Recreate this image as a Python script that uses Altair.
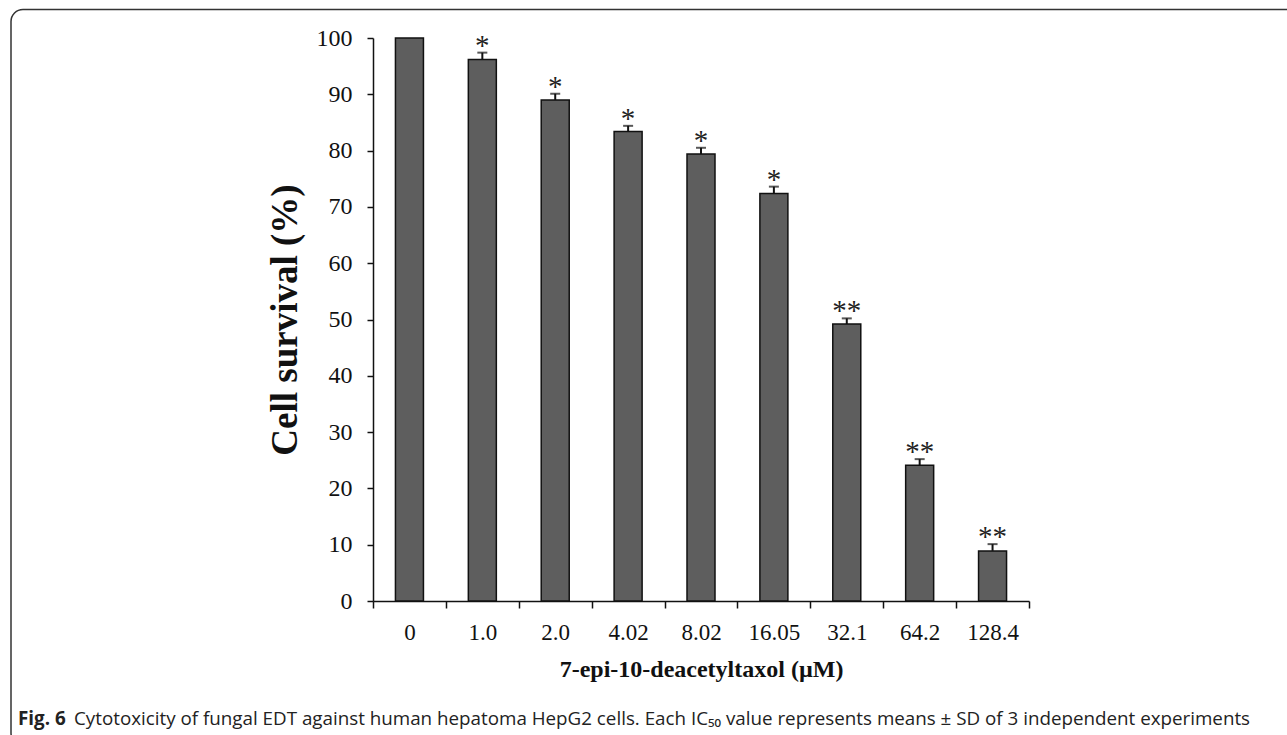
import altair as alt
import pandas as pd

concentrations = ["0", "1.0", "2.0", "4.02", "8.02", "16.05", "32.1", "64.2", "128.4"]
survival = [100, 96.2, 89.0, 83.4, 79.4, 72.4, 49.2, 24.1, 8.9]
sd = [0, 1.2, 1.1, 1.0, 1.1, 1.2, 1.0, 1.1, 1.2]
stars = ["", "*", "*", "*", "*", "*", "**", "**", "**"]

caption_bold = "Fig. 6"
caption_rest = ("Cytotoxicity of fungal EDT against human hepatoma HepG2 cells. "
                "Each IC\u2085\u2080 value represents means \u00b1 SD of 3 independent experiments")

df = pd.DataFrame({
    "conc": concentrations,
    "survival": survival,
    "sd": sd,
    "upper": [v + s for v, s in zip(survival, sd)],
    "star": stars,
})
err_df = df[df["sd"] > 0]

SERIF = "Liberation Serif"
W, H = 656, 563

x_enc = alt.X("conc:N", sort=concentrations,
              scale=alt.Scale(paddingInner=0, paddingOuter=0),
              axis=alt.Axis(title="7-epi-10-deacetyltaxol (\u00b5M)", labelAngle=0,
                            tickBand="extent", tickSize=7, labelPadding=13,
                            labelFontSize=23, labelFont=SERIF, labelColor="#111",
                            titleFont=SERIF, titleFontSize=24, titleFontWeight="bold",
                            titleColor="#111", titlePadding=13,
                            domainColor="#111", tickColor="#111",
                            domainWidth=1.5, tickWidth=1.5))

y_scale = alt.Scale(domain=[0, 100], nice=False)

bars = alt.Chart(df).mark_bar(size=28, color="#5e5e5e", stroke="#111",
                              strokeWidth=1.5).encode(
    x=x_enc,
    y=alt.Y("survival:Q", scale=y_scale,
            axis=alt.Axis(title="Cell survival (%)", values=list(range(0, 101, 10)),
                          tickSize=6, labelPadding=15, grid=False,
                          labelFontSize=24, labelFont=SERIF, labelColor="#111",
                          titleFont=SERIF, titleFontSize=37, titleFontWeight="bold",
                          titleColor="#111", titlePadding=12,
                          domainColor="#111", tickColor="#111",
                          domainWidth=1.5, tickWidth=1.5)),
)

whisker = alt.Chart(err_df).mark_rule(color="#111", strokeWidth=2).encode(
    x=alt.X("conc:N", sort=concentrations),
    y=alt.Y("survival:Q", scale=y_scale),
    y2="upper:Q",
)

caps = alt.Chart(err_df).mark_tick(color="#111", thickness=2, size=10,
                                   orient="horizontal").encode(
    x=alt.X("conc:N", sort=concentrations),
    y=alt.Y("upper:Q", scale=y_scale),
)

star_text = alt.Chart(err_df).mark_text(font=SERIF, fontSize=29, color="#222",
                                        baseline="alphabetic", dy=2).encode(
    x=alt.X("conc:N", sort=concentrations),
    y=alt.Y("upper:Q", scale=y_scale),
    text="star:N",
)

one = pd.DataFrame({"k": [0]})

frame = alt.Chart(one).mark_rect(fill=None, stroke="#333", strokeWidth=1.5,
                                 cornerRadius=12).encode(
    x=alt.value(11 - 373), x2=alt.value(1320 - 373),
    y=alt.value(9.5 - 38), y2=alt.value(745 - 38),
)

cap1 = alt.Chart(one).mark_text(font="Open Sans", fontSize=18.8, fontWeight="bold",
                                align="left", baseline="alphabetic",
                                color="#222").encode(
    x=alt.value(18 - 373), y=alt.value(725 - 38), text=alt.value(caption_bold))

cap2 = alt.Chart(one).mark_text(font="Open Sans", fontSize=18.8,
                                align="left", baseline="alphabetic",
                                color="#222").encode(
    x=alt.value(74 - 373), y=alt.value(725 - 38), text=alt.value(caption_rest))

chart = alt.layer(frame, bars, whisker, caps, star_text, cap1, cap2).properties(
    width=W, height=H,
    autosize=alt.AutoSizeParams(type="none"),
    padding={"left": 373, "top": 38, "right": 1287 - 373 - W, "bottom": 735 - 38 - H},
    background="white",
).configure_view(stroke=None)

chart.save("out.html", embed_options={"renderer": "svg", "actions": False})
